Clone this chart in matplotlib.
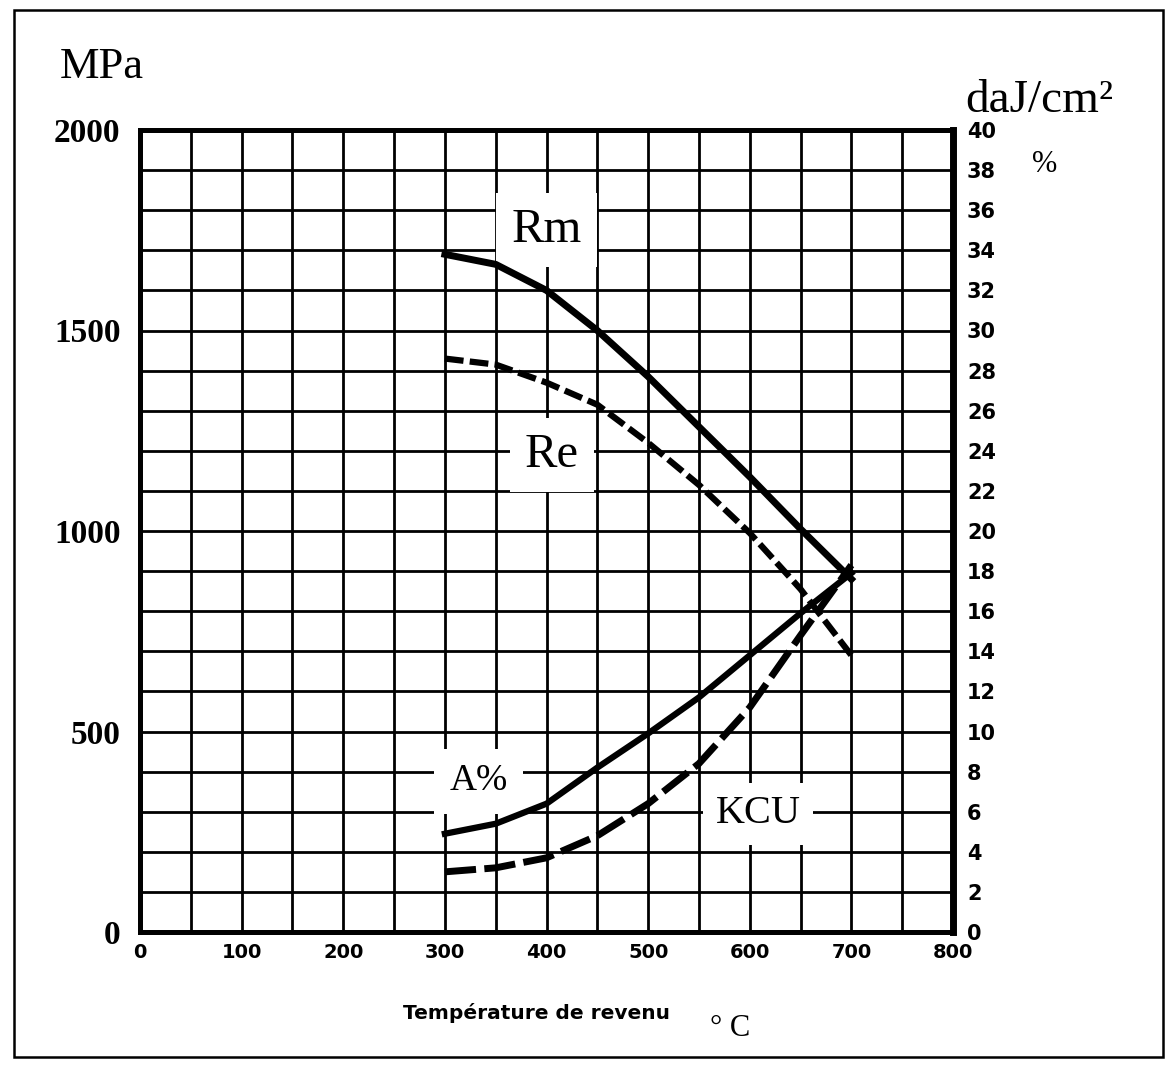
import matplotlib
matplotlib.use("Agg")
import matplotlib.pyplot as plt
from matplotlib.patches import Rectangle

# tempering temperature (°C)
temp = [300, 350, 400, 450, 500, 550, 600, 650, 700]
# strengths in MPa (left axis)
rm = [1690, 1665, 1600, 1500, 1385, 1260, 1135, 1005, 880]
re = [1430, 1415, 1370, 1315, 1220, 1115, 995, 855, 690]
# elongation % and resilience daJ/cm2 (right axis)
a_pct = [4.9, 5.4, 6.4, 8.2, 9.9, 11.7, 13.8, 15.9, 17.9]
kcu = [3.0, 3.2, 3.7, 4.8, 6.4, 8.4, 11.2, 14.8, 18.3]

x_ticks = [0, 100, 200, 300, 400, 500, 600, 700, 800]
left_ticks = [0, 500, 1000, 1500, 2000]
right_ticks = list(range(0, 41, 2))

serif = ["Liberation Serif", "DejaVu Serif"]
sans = ["DejaVu Sans"]

fig = plt.figure(figsize=(11.66, 10.72), dpi=100)
ax = fig.add_axes([140 / 1166, 1 - 932 / 1072, 813 / 1166, 802 / 1072])

ax.set_xlim(0, 800)
ax.set_ylim(0, 2000)
ax.set_xticks(x_ticks)
ax.set_xticks(range(0, 801, 50), minor=True)
ax.set_yticks(left_ticks)
ax.set_yticks(range(0, 2001, 100), minor=True)
ax.grid(which="both", color="black", linewidth=2.0)
ax.set_axisbelow(True)
ax.tick_params(which="both", length=0)
ax.tick_params(axis="y", pad=14)
ax.tick_params(axis="x", pad=8)
for lab in ax.get_yticklabels():
    lab.set_fontfamily(serif)
    lab.set_fontweight("bold")
    lab.set_fontsize(24)
for lab in ax.get_xticklabels():
    lab.set_fontfamily(sans)
    lab.set_fontweight("bold")
    lab.set_fontsize(14)
for sp in ax.spines.values():
    sp.set_linewidth(3.5)

ax.plot(temp, rm, color="black", linewidth=5, solid_joinstyle="round", zorder=4)
ax.plot(temp, re, color="black", linewidth=4.5, dashes=(3, 1), zorder=4)

ax2 = ax.twinx()
ax2.set_ylim(0, 40)
ax2.set_yticks(right_ticks)
ax2.tick_params(length=0, pad=10)
for lab in ax2.get_yticklabels():
    lab.set_fontfamily(sans)
    lab.set_fontweight("bold")
    lab.set_fontsize(15)
for sp in ax2.spines.values():
    sp.set_linewidth(3.5)
ax2.spines["right"].set_linewidth(5)
ax2.plot(temp, a_pct, color="black", linewidth=4.5, solid_joinstyle="round", zorder=4)
ax2.plot(temp, kcu, color="black", linewidth=5, dashes=(4.5, 1.2), zorder=4)

box = dict(facecolor="white", edgecolor="none", pad=11)
ax.text(400, 1720, "Rm", fontsize=35, fontfamily=serif, ha="center", va="baseline", bbox=box, zorder=3)
ax.text(405, 1160, "Re", fontsize=35, fontfamily=serif, ha="center", va="baseline", bbox=box, zorder=3)
ax.text(333, 353, "A%", fontsize=27, fontfamily=serif, ha="center", va="baseline", bbox=box, zorder=3)
ax.text(608, 271, "KCU", fontsize=29, fontfamily=serif, ha="center", va="baseline",
        bbox=dict(facecolor="white", edgecolor="none", pad=9), zorder=3)

fig.text(60 / 1166, 1 - 78 / 1072, "MPa", fontsize=32, fontfamily=serif, va="baseline")
fig.text(965 / 1166, 1 - 112 / 1072, "daJ/cm²", fontsize=34, fontfamily=serif, va="baseline")
fig.text(1032 / 1166, 1 - 172 / 1072, "%", fontsize=22, fontfamily=serif, va="baseline")
fig.text(403 / 1166, 1 - 1019 / 1072, "Température de revenu", fontsize=14.5, fontweight="bold",
         fontfamily=sans, va="baseline")
fig.text(710 / 1166, 1 - 1036 / 1072, "° C", fontsize=22, fontfamily=serif, va="baseline")

fig.add_artist(Rectangle((14 / 1166, 1 - 1057 / 1072), 1149 / 1166, 1047 / 1072,
                         transform=fig.transFigure, fill=False, edgecolor="black", linewidth=1.8))

fig.savefig("out.png", dpi=100)
